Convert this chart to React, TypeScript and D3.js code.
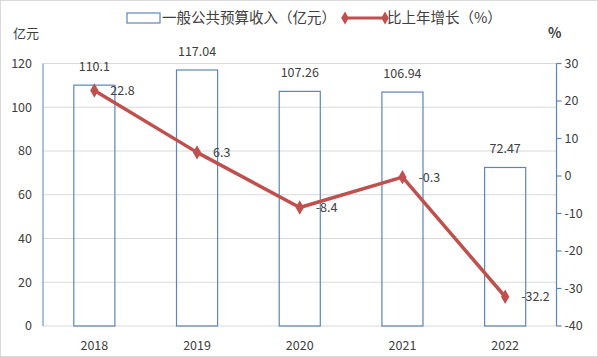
import React from "react";
import * as d3 from "d3";

const years = ["2018", "2019", "2020", "2021", "2022"];
const revenue = [110.1, 117.04, 107.26, 106.94, 72.47];
const growth = [22.8, 6.3, -8.4, -0.3, -32.2];
const leftTicks = [0, 20, 40, 60, 80, 100, 120];
const rightTicks = [-40, -30, -20, -10, 0, 10, 20, 30];
const barLegend = "一般公共预算收入（亿元）";
const lineLegend = "比上年增长（%）";
const leftUnit = "亿元";
const rightUnit = "%";

const W = 598;
const H = 357;
const M = { left: 43, right: 556.5, top: 63.5, bottom: 326 };
const BLUE = "#5b86b9";
const RED = "#c0504d";
const TEXT = "#404040";
const GRID = "#d9d9d9";
const FONT = "'Noto Sans CJK SC', 'Noto Sans', sans-serif";

export default function App() {
  const band = d3.scaleBand<string>().domain(years).range([M.left, M.right]);
  const yL = d3.scaleLinear().domain([0, 120]).range([M.bottom, M.top]);
  const yR = d3.scaleLinear().domain([-40, 30]).range([M.bottom, M.top]);
  const cx = (d: string) => (band(d) as number) + band.bandwidth() / 2;
  const bw = band.bandwidth() * 0.4;
  const line = d3
    .line<number>()
    .x((_, i) => cx(years[i]))
    .y((d) => yR(d));
  const diamond = d3.symbol().type(d3.symbolDiamond).size(60)();
  const legDiamond = d3.symbol().type(d3.symbolDiamond).size(50)();

  return (
    <svg
      width={W}
      height={H}
      style={{ position: "absolute", left: 0, top: 0, background: "#fff", fontFamily: FONT }}
    >
      <rect x={0.5} y={0.5} width={W - 1} height={H - 1} fill="#fff" stroke={GRID} />
      {leftTicks.map((t) => (
        <line key={"g" + t} x1={M.left} x2={M.right} y1={yL(t)} y2={yL(t)} stroke={GRID} strokeWidth={1} />
      ))}
      <line x1={M.left} x2={M.left} y1={M.top} y2={M.bottom} stroke={BLUE} strokeWidth={1} />
      {leftTicks.map((t) => (
        <text key={"l" + t} x={32} y={yL(t)} dy="0.35em" textAnchor="end" fontSize={12.5} fill={TEXT}>
          {t}
        </text>
      ))}
      <line x1={M.right} x2={M.right} y1={M.top} y2={M.bottom} stroke={BLUE} strokeWidth={1.2} />
      {rightTicks.map((t) => (
        <g key={"r" + t}>
          <line x1={M.right} x2={M.right + 5} y1={yR(t)} y2={yR(t)} stroke={BLUE} strokeWidth={1.2} />
          <text x={M.right + 8} y={yR(t)} dy="0.35em" textAnchor="start" fontSize={12.5} fill={TEXT}>
            {t}
          </text>
        </g>
      ))}
      {years.map((yr, i) => (
        <g key={"b" + yr}>
          <rect
            x={cx(yr) - bw / 2}
            y={yL(revenue[i])}
            width={bw}
            height={yL(0) - yL(revenue[i])}
            fill="none"
            stroke={BLUE}
            strokeWidth={1.2}
          />
          <text x={cx(yr)} y={yL(revenue[i]) - 14} textAnchor="middle" fontSize={12.5} fill={TEXT}>
            {revenue[i]}
          </text>
          <text x={cx(yr)} y={346} dy="0.35em" textAnchor="middle" fontSize={12.5} fill={TEXT}>
            {yr}
          </text>
        </g>
      ))}
      <path d={line(growth) as string} fill="none" stroke={RED} strokeWidth={3.5} strokeLinejoin="round" />
      {growth.map((g, i) => (
        <g key={"p" + i}>
          <path d={diamond as string} transform={`translate(${cx(years[i])},${yR(g)})`} fill={RED} />
          <text x={cx(years[i]) + 16} y={yR(g)} dy="0.35em" fontSize={12.5} fill={TEXT}>
            {g}
          </text>
        </g>
      ))}
      <text x={13} y={33} dy="0.35em" fontSize={13} fill={TEXT}>
        {leftUnit}
      </text>
      <text x={548} y={33} dy="0.35em" fontSize={14} fontWeight="bold" fill={TEXT}>
        {rightUnit}
      </text>
      <rect x={127} y={13} width={33} height={10} fill="#fff" stroke={BLUE} strokeWidth={1.2} />
      <text x={162} y={18} dy="0.35em" fontSize={14.5} fill={TEXT}>
        {barLegend}
      </text>
      <line x1={345} x2={385} y1={18} y2={18} stroke={RED} strokeWidth={3} />
      <path d={legDiamond as string} transform="translate(345,18)" fill={RED} />
      <path d={legDiamond as string} transform="translate(385,18)" fill={RED} />
      <text x={387} y={18} dy="0.35em" fontSize={14.5} fill={TEXT}>
        {lineLegend}
      </text>
    </svg>
  );
}
